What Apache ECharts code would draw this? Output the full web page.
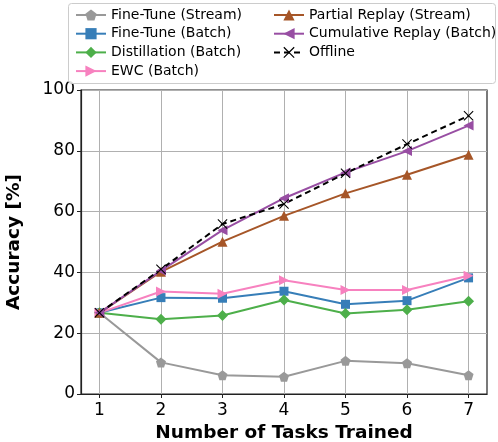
<!DOCTYPE html>
<html>
<head>
<meta charset="utf-8">
<script src="https://cdn.jsdelivr.net/npm/echarts@6/dist/echarts.min.js"></script>
<style>html,body{margin:0;padding:0;background:#fff}#c{width:498px;height:442px}</style>
</head>
<body>
<div id="c"></div>
<script>
const tasks = [1, 2, 3, 4, 5, 6, 7];
const xTicks = [1, 2, 3, 4, 5, 6, 7];
const yTicks = [0, 20, 40, 60, 80, 100];
const seriesNames = ['Fine-Tune (Stream)', 'Fine-Tune (Batch)', 'Distillation (Batch)', 'EWC (Batch)', 'Partial Replay (Stream)', 'Cumulative Replay (Batch)', 'Offline'];
const fineTuneStream = [26.7, 10.4, 6.2, 5.7, 10.9, 10.1, 6.2];
const fineTuneBatch = [26.7, 31.7, 31.5, 33.8, 29.5, 30.7, 38.2];
const distillation = [26.7, 24.6, 25.8, 30.9, 26.5, 27.7, 30.5];
const ewc = [26.7, 33.7, 33.0, 37.4, 34.2, 34.2, 38.9];
const partialReplay = [26.7, 40.2, 50.1, 58.6, 66.0, 72.1, 78.7];
const cumulativeReplay = [26.7, 40.6, 53.9, 64.4, 72.9, 79.9, 88.3];
const offline = [26.7, 41.0, 55.9, 62.5, 72.6, 82.2, 91.5];

const FONT = 'DejaVu Sans';
const pentagon = 'path://M0,-1L0.951,-0.309L0.588,0.809L-0.588,0.809L-0.951,-0.309Z';
const diamond = 'path://M0,-1L1,0L0,1L-1,0Z';
const xMark = 'path://M-1,-0.85L-0.85,-1L0,-0.15L0.85,-1L1,-0.85L0.15,0L1,0.85L0.85,1L0,0.15L-0.85,1L-1,0.85L-0.15,0Z';

function pairs(vals) { return tasks.map((t, i) => [t, vals[i]]); }

function mk(name, vals, color, symbol, size, rotate, dashed) {
  return {
    name: name, type: 'line', data: pairs(vals),
    symbol: symbol, symbolSize: size, symbolRotate: rotate || 0,
    showAllSymbol: true,
    lineStyle: { color: color, width: 2, type: dashed ? [6, 4] : 'solid' },
    itemStyle: { color: color, borderWidth: 0 },
    emphasis: { disabled: true },
    animation: false, z: 3
  };
}

const series = [
  mk(seriesNames[0], fineTuneStream, '#999999', pentagon, 10),
  mk(seriesNames[1], fineTuneBatch, '#377eb8', 'rect', 9),
  mk(seriesNames[2], distillation, '#4daf4a', diamond, 11),
  mk(seriesNames[3], ewc, '#f781bf', 'triangle', 10, -90),
  mk(seriesNames[4], partialReplay, '#a65628', 'triangle', 10),
  mk(seriesNames[5], cumulativeReplay, '#984ea3', 'triangle', 10, 90),
  mk(seriesNames[6], offline, '#000000', xMark, 10, 0, true)
];
series[0].markLine = {
  silent: true, symbol: 'none', animation: false, label: { show: false },
  lineStyle: { color: '#b0b0b0', width: 1, type: 'solid' },
  data: xTicks.map(v => ({ xAxis: v })), z: 1
};

const chart = echarts.init(document.getElementById('c'), null, { renderer: 'canvas' });
const legendText = { fontFamily: FONT, fontSize: 14, color: '#000' };
chart.setOption({
  animation: false,
  backgroundColor: '#fff',
  grid: { left: 81, right: 11, top: 90, bottom: 48, containLabel: false, outerBoundsMode: 'none', show: true, borderColor: '#222', borderWidth: 1.2, backgroundColor: 'transparent' },
  graphic: [{
    type: 'rect', left: 68, top: 3, z: 10,
    shape: { width: 427, height: 80, r: 3 },
    style: { fill: 'rgba(255,255,255,0.85)', stroke: '#cccccc', lineWidth: 1 }
  }],
  legend: [
    { data: seriesNames.slice(0, 4), orient: 'vertical', left: 72, top: 5, padding: 3, itemGap: 4.7, itemWidth: 30, itemHeight: 14, textStyle: legendText, z: 11, selectedMode: false },
    { data: seriesNames.slice(4), orient: 'vertical', left: 270, top: 5, padding: 3, itemGap: 4.7, itemWidth: 30, itemHeight: 14, textStyle: legendText, z: 11, selectedMode: false }
  ],
  xAxis: {
    type: 'value', min: 0.7, max: 7.3,
    name: 'Number of Tasks Trained', nameLocation: 'middle', nameGap: 30,
    nameTextStyle: { fontFamily: FONT, fontSize: 18.5, fontWeight: 'bold', color: '#000' },
    axisLine: { show: true, lineStyle: { color: '#222', width: 1.2 } },
    axisTick: { show: true, customValues: xTicks, length: 4, lineStyle: { color: '#222' } },
    axisLabel: { customValues: xTicks, fontFamily: FONT, fontSize: 17, color: '#000', margin: 8 },
    splitLine: { show: false }
  },
  yAxis: {
    type: 'value', min: 0, max: 100, interval: 20,
    name: 'Accuracy [%]', nameLocation: 'middle', nameGap: 57, nameRotate: 90,
    nameTextStyle: { fontFamily: FONT, fontSize: 18.5, fontWeight: 'bold', color: '#000' },
    axisLine: { show: true, lineStyle: { color: '#222', width: 1.2 } },
    axisTick: { show: true, length: 4, lineStyle: { color: '#222' } },
    axisLabel: { fontFamily: FONT, fontSize: 17, color: '#000', margin: 6 },
    splitLine: { show: true, lineStyle: { color: '#b0b0b0', width: 1 } }
  },
  series: series
});
</script>
</body>
</html>
